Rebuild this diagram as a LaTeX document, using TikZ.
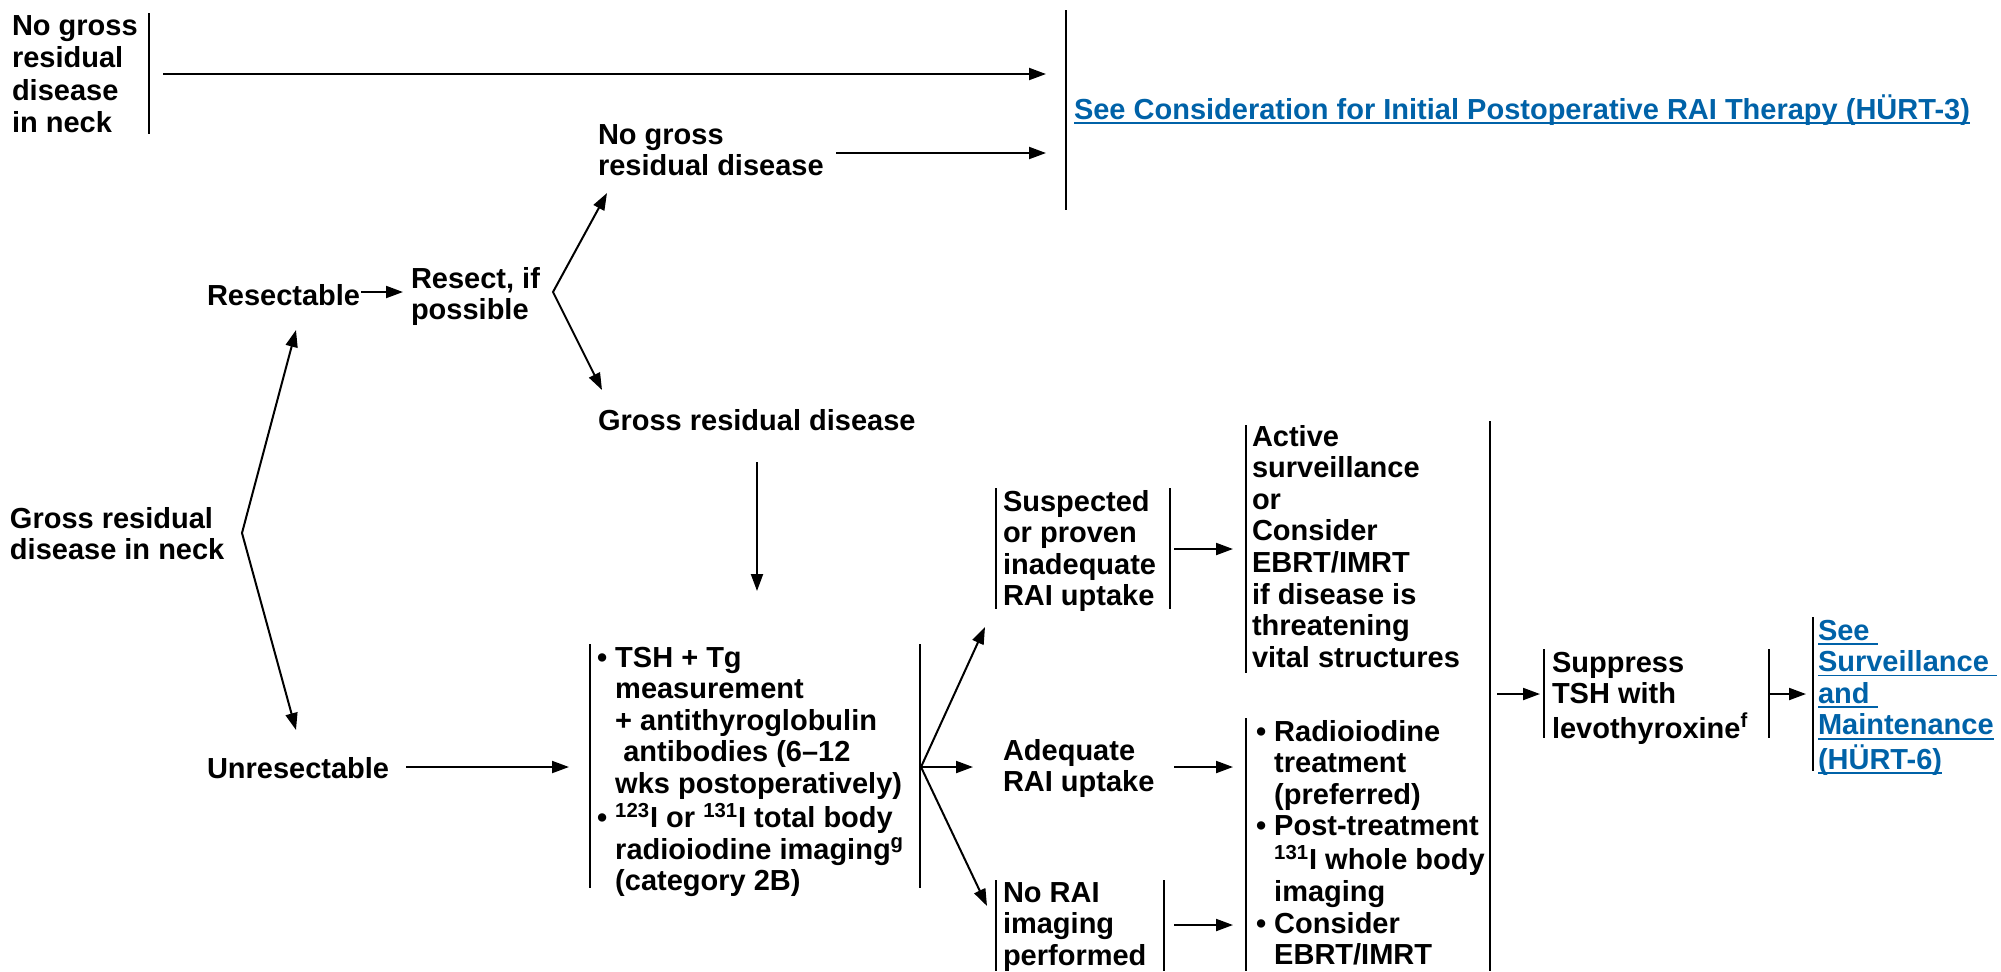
\documentclass[tikz,border=0pt]{standalone}
\usepackage{fontspec}
\setmainfont{Liberation Sans}
\usetikzlibrary{arrows.meta}
\definecolor{linkblue}{RGB}{0,98,168}
\newcommand{\lnkul}[1]{\setbox0\hbox{#1}\rlap{\rule[-2.4pt]{\wd0}{0.9pt}}\box0}
\newcommand{\hin}{\phantom{\textbullet\ }}
\newcommand{\ml}[1]{\begin{tabular}[t]{@{}l@{}}#1\end{tabular}}
\tikzset{
  lbl/.style={anchor=base west, inner sep=0pt, outer sep=0pt,
    font=\bfseries\fontsize{14.5pt}{15.8pt}\selectfont},
  lblwide/.style={lbl, font=\bfseries\fontsize{14.5pt}{16.3pt}\selectfont},
  bar/.style={line width=1.3pt},
  arr/.style={line width=1pt, -{Triangle[length=8.5pt,width=6pt]}},
  darr/.style={line width=1pt, {Triangle[length=8.5pt,width=6pt]}-{Triangle[length=8.5pt,width=6pt]}},
}
\begin{document}
\begin{tikzpicture}[x=0.5pt,y=-0.5pt]
\useasboundingbox (0,0) rectangle (2001,971);

% ---- text nodes ----
\node[lblwide] (tl) at (12,35) {\ml{No gross\\residual\\disease\\in neck}};
\node[lbl, text=linkblue] (seeRAI) at (1074,119) {\lnkul{See Consideration for Initial Postoperative RAI Therapy (HÜRT-3)}};
\node[lbl] (nogross) at (598,144) {\ml{No gross\\residual disease}};
\node[lbl] (resectable) at (207,305) {Resectable};
\node[lbl] (resect) at (411,288) {\ml{Resect, if\\possible}};
\node[lbl] (grossres) at (598,430) {Gross residual disease};
\node[lbl] (grossneck) at (10,528) {\ml{Gross residual\\disease in neck}};
\node[lbl] (unresect) at (207,778) {Unresectable};
\node[lbl] (tsh) at (597,667) {\ml{\textbullet\ TSH + Tg\\\hin measurement\\\hin + antithyroglobulin\\\hin\ antibodies (6–12\\\hin wks postoperatively)\\\textbullet\ \textsuperscript{123}I or \textsuperscript{131}I total body\\\hin radioiodine imaging\textsuperscript{g}\\\hin (category 2B)}};
\node[lbl] (susp) at (1003,511) {\ml{Suspected\\or proven\\inadequate\\RAI uptake}};
\node[lbl] (active) at (1252,446) {\ml{Active\\surveillance\\or\\Consider\\EBRT/IMRT\\if disease is\\threatening\\vital structures}};
\node[lbl] (adeq) at (1003,760) {\ml{Adequate\\RAI uptake}};
\node[lbl] (radio) at (1256,741) {\ml{\textbullet\ Radioiodine\\\hin treatment\\\hin (preferred)\\\textbullet\ Post-treatment\\\hin \textsuperscript{131}I whole body\\\hin imaging\\\textbullet\ Consider\\\hin EBRT/IMRT}};
\node[lbl] (norai) at (1003,902) {\ml{No RAI\\imaging\\performed}};
\node[lbl] (suppress) at (1552,672) {\ml{Suppress\\TSH with\\levothyroxine\textsuperscript{f}}};
\node[lbl, text=linkblue] (seesurv) at (1818,640) {\ml{\lnkul{See\ }\\\lnkul{Surveillance\ }\\\lnkul{and\ }\\\lnkul{Maintenance}\\\lnkul{(HÜRT-6)}}};

% ---- bars ----
\coordinate (tlT) at (149,13);   \coordinate (tlB) at (149,134);
\coordinate (raiT) at (1066,10); \coordinate (raiB) at (1066,210);
\coordinate (tshLT) at (590,644); \coordinate (tshLB) at (590,888);
\coordinate (tshRT) at (920,644); \coordinate (tshRB) at (920,888);
\coordinate (suspLT) at (996,488); \coordinate (suspLB) at (996,609);
\coordinate (suspRT) at (1170,488); \coordinate (suspRB) at (1170,609);
\coordinate (actT) at (1246,425); \coordinate (actB) at (1246,673);
\coordinate (radT) at (1246,718); \coordinate (radB) at (1246,971);
\coordinate (noLT) at (996,880); \coordinate (noLB) at (996,971);
\coordinate (noRT) at (1164,880); \coordinate (noRB) at (1164,971);
\coordinate (bigT) at (1490,421); \coordinate (bigB) at (1490,971);
\coordinate (supLT) at (1544,649); \coordinate (supLB) at (1544,738);
\coordinate (supRT) at (1769,649); \coordinate (supRB) at (1769,738);
\coordinate (lnkT) at (1813,617); \coordinate (lnkB) at (1813,771);
\foreach \a/\b in {tlT/tlB, raiT/raiB, tshLT/tshLB, tshRT/tshRB, suspLT/suspLB, suspRT/suspRB,
  actT/actB, radT/radB, noLT/noLB, noRT/noRB, bigT/bigB, supLT/supLB, supRT/supRB, lnkT/lnkB}
  \draw[bar] (\a) -- (\b);

% ---- connector end points ----
\coordinate (a1s) at (163,74);   \coordinate (a1e) at (1046,74);
\coordinate (a2s) at (836,153);  \coordinate (a2e) at (1046,153);
\coordinate (a3s) at (361,292);  \coordinate (a3e) at (403,292);
\coordinate (rv) at (553,292);   \coordinate (rvU) at (607,193); \coordinate (rvD) at (602,390);
\coordinate (gv) at (242,533);   \coordinate (gvU) at (296,330); \coordinate (gvD) at (296,730);
\coordinate (a4s) at (757,462);  \coordinate (a4e) at (757,591);
\coordinate (a5s) at (406,767);  \coordinate (a5e) at (569,767);
\coordinate (fv) at (921,767);
\coordinate (fU) at (985,627); \coordinate (fM) at (973,767); \coordinate (fD) at (987,906);
\coordinate (a6s) at (1174,549); \coordinate (a6e) at (1233,549);
\coordinate (a7s) at (1174,767); \coordinate (a7e) at (1233,767);
\coordinate (a8s) at (1174,925); \coordinate (a8e) at (1233,925);
\coordinate (a9s) at (1497,694); \coordinate (a9e) at (1540,694);
\coordinate (a10s) at (1770,694); \coordinate (a10e) at (1806,694);

% ---- connectors ----
\draw[arr] (a1s) -- (a1e);
\draw[arr] (a2s) -- (a2e);
\draw[arr] (a3s) -- (a3e);
\draw[darr] (rvU) -- (rv) -- (rvD);
\draw[darr] (gvU) -- (gv) -- (gvD);
\draw[arr] (a4s) -- (a4e);
\draw[arr] (a5s) -- (a5e);
\draw[arr] (fv) -- (fU);
\draw[arr] (fv) -- (fM);
\draw[arr] (fv) -- (fD);
\draw[arr] (a6s) -- (a6e);
\draw[arr] (a7s) -- (a7e);
\draw[arr] (a8s) -- (a8e);
\draw[arr] (a9s) -- (a9e);
\draw[arr] (a10s) -- (a10e);
\end{tikzpicture}
\end{document}
